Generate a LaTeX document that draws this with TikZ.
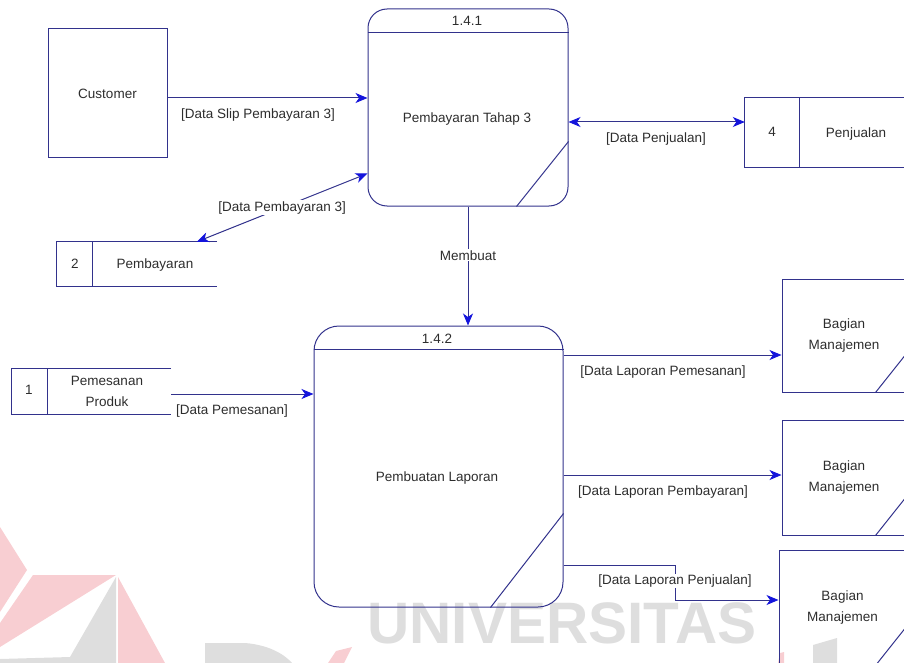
\documentclass[tikz,border=0pt]{standalone}
\usepackage{fontspec}
\setmainfont{Liberation Sans}
\usetikzlibrary{arrows.meta}

\definecolor{dfdline}{RGB}{50,50,140}
\definecolor{dfdhead}{RGB}{20,20,220}
\definecolor{dfdtext}{RGB}{45,45,45}
\definecolor{wmpink}{RGB}{248,206,210}
\definecolor{wmgrey}{RGB}{222,222,222}

\tikzset{
  line/.style={draw=dfdline, line width=1pt},
  flow/.style={line, -{Stealth[length=12pt,width=10pt,inset=3.5pt,color=dfdhead]}},
  both/.style={line, {Stealth[length=12pt,width=10pt,inset=3.5pt,color=dfdhead]}-{Stealth[length=12pt,width=10pt,inset=3.5pt,color=dfdhead]}},
  lbl/.style={inner sep=1pt, text=dfdtext},
  entity/.style={line, rectangle, align=center},
  proc/.style={line, rectangle},
  store/.style={rectangle, inner sep=0pt},
}

\begin{document}
\begin{tikzpicture}[x=1pt, y=-1pt, font=\fontsize{13.5}{21}\selectfont, text=dfdtext]
\useasboundingbox (0,0) rectangle (904,663);
\clip (0,0) rectangle (904,663);

% background watermark
\fill[wmpink] (0,527) -- (27,570) -- (0,612) -- cycle;
\fill[wmpink] (33,575) -- (116,575) -- (0,647) -- (0,623) -- cycle;
\fill[wmgrey] (116,577) -- (70,657) -- (0,659) -- (0,663) -- (116,663) -- cycle;
\fill[wmpink] (118,577) -- (165,663) -- (118,663) -- cycle;
\fill[wmgrey] (205,643) -- (245,643) .. controls (270,645) and (285,655) .. (292,663) -- (205,663) -- cycle;
\fill[wmpink] (352,647) -- (344,663) -- (328,663) -- (336,651) -- cycle;
\fill[wmpink] (780,653) -- (784,652) -- (784,663) -- (778,663) -- cycle;
\fill[wmgrey] (813,645) -- (837,638) -- (837,663) -- (813,663) -- cycle;
\node[inner sep=0pt, text=wmgrey, font=\fontsize{58.5}{58}\selectfont\bfseries] (wm) at (562,623) {UNIVERSITAS};

% external entity
\node[entity, minimum width=119pt, minimum height=129pt] (cust) at (107.5,93.5) {Customer};

% processes
\node[proc, minimum width=200pt, minimum height=197pt, rounded corners=19pt] (p1) at (468,107.5) {};
\draw[line] ([yshift=-24pt]p1.north west) -- ([yshift=-24pt]p1.north east);
\draw[line] ([xshift=-52pt]p1.south east) -- ([yshift=65pt]p1.south east);
\node (p1id) at (467,21) {1.4.1};
\node (p1t) at (467,119) {Pembayaran Tahap 3};

\node[proc, minimum width=249pt, minimum height=281pt, rounded corners=25pt] (p2) at (438.5,466.5) {};
\draw[line] ([yshift=-24pt]p2.north west) -- ([yshift=-24pt]p2.north east);
\draw[line] ([xshift=-73pt]p2.south east) -- ([yshift=94pt]p2.south east);
\node (p2id) at (437,339) {1.4.2};
\node (p2t) at (437,478) {Pembuatan Laporan};

% data stores
\node[store, minimum width=160pt, minimum height=44pt] (s2) at (137,264) {};
\draw[line] (s2.north east) -- (s2.north west) -- (s2.south west) -- (s2.south east);
\draw[line] ([xshift=36pt]s2.north west) -- ([xshift=36pt]s2.south west);
\node (s2n) at (75,264) {2};
\node (s2t) at (155,265) {Pembayaran};

\node[store, minimum width=161pt, minimum height=69pt] (s4) at (825.5,132.5) {};
\draw[line] (s4.north east) -- (s4.north west) -- (s4.south west) -- (s4.south east);
\draw[line] ([xshift=55pt]s4.north west) -- ([xshift=55pt]s4.south west);
\node (s4n) at (772,132) {4};
\node (s4t) at (856,134) {Penjualan};

\node[store, minimum width=159pt, minimum height=45pt] (s1) at (91.5,391.5) {};
\draw[line] (s1.north east) -- (s1.north west) -- (s1.south west) -- (s1.south east);
\draw[line] ([xshift=36pt]s1.north west) -- ([xshift=36pt]s1.south west);
\node (s1n) at (29,390) {1};
\node[align=center] (s1t) at (107,391) {Pemesanan\\Produk};

% management entities
\node[entity, minimum width=124pt, minimum height=113pt] (b1) at (844,335.5) {Bagian\\Manajemen};
\node[entity, minimum width=124pt, minimum height=115pt] (b2) at (844,477.5) {Bagian\\Manajemen};
\node[entity, minimum width=127pt, minimum height=115pt] (b3) at (842.5,607.5) {Bagian\\Manajemen};
\foreach \b in {b1,b2,b3}
  \draw[line] ([xshift=-31pt]\b.south east) -- ([yshift=39pt]\b.south east);

% data flows
\coordinate (c1) at ([yshift=-4.5pt]cust.east);
\draw[flow] (c1) -- (c1 -| p1.west);
\node[lbl] at (258,115) {[Data Slip Pembayaran 3]};

\draw[both] ([xshift=140pt]s2.north west) -- node[lbl, fill=white] {[Data Pembayaran 3]} ([yshift=33pt]p1.south west);

\coordinate (c3) at ([yshift=-14.5pt]p1.east);
\draw[both] (c3) -- (c3 -| s4.west);
\node[lbl] at (656,139) {[Data Penjualan]};

\draw[flow] (p1.south) -- node[lbl, fill=white, pos=0.41] {Membuat} (p1.south |- p2.north);

\coordinate (c5) at ([yshift=-2.5pt]s1.east);
\draw[flow] (c5) -- (c5 -| p2.west);
\node[lbl] at (232,411) {[Data Pemesanan]};

\coordinate (c6) at ([yshift=-19.5pt]b1.west);
\draw[flow] (c6 -| p2.east) -- (c6);
\node[lbl] at (663,372) {[Data Laporan Pemesanan]};

\coordinate (c7) at ([yshift=2.5pt]b2.west);
\draw[flow] (c7 -| p2.east) -- (c7);
\node[lbl] at (663,492) {[Data Laporan Pembayaran]};

\coordinate (c8s) at ([yshift=-98.5pt]p2.east);
\coordinate (c8) at ([yshift=7.5pt]b3.west);
\draw[flow] (c8s) -| ([xshift=-103pt]c8) -- (c8);
\node[lbl, fill=white] at (675,581) {[Data Laporan Penjualan]};
\end{tikzpicture}
\end{document}
